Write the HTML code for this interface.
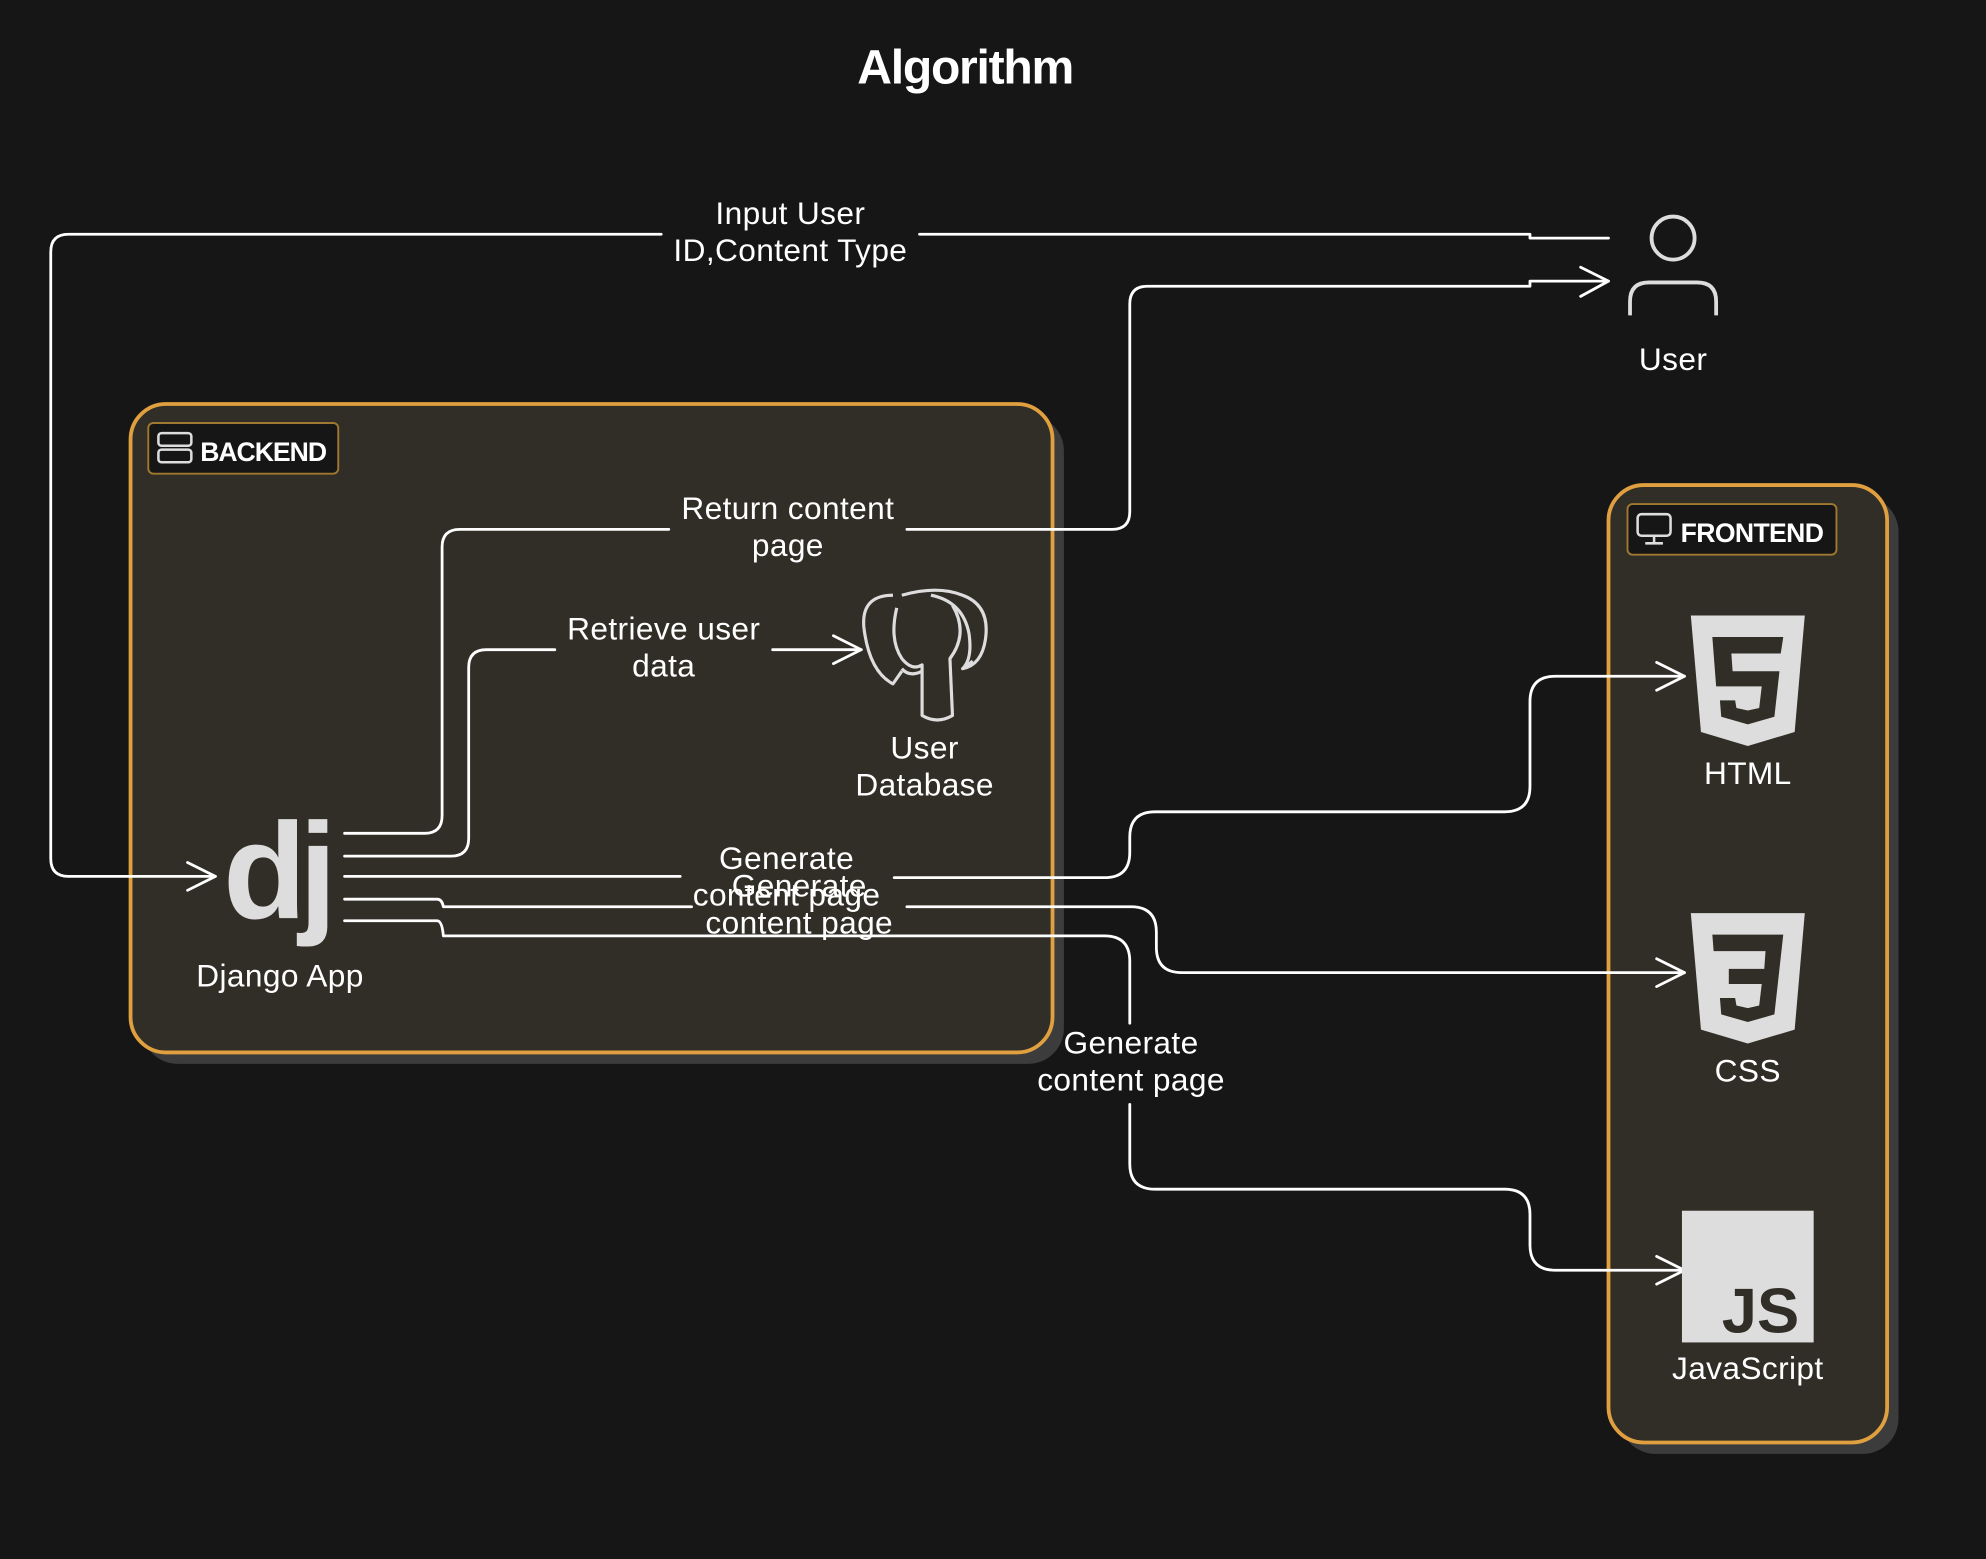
<!DOCTYPE html>
<html><head><meta charset="utf-8"><style>
html,body{margin:0;padding:0;background:#161616;}
svg{display:block;}
text{font-family:"Liberation Sans",sans-serif;fill:#fff;}
</style></head><body>
<svg width="1986" height="1559" viewBox="0 0 1568 1231" xmlns="http://www.w3.org/2000/svg">
<rect width="1568" height="1231" fill="#161616"/>
<text x="762" y="66" font-size="38" font-weight="bold" text-anchor="middle" letter-spacing="-1">Algorithm</text>

<!-- backend panel -->
<rect x="112" y="328" width="728" height="512" rx="28" fill="#3c3c3c"/>
<rect x="103" y="319" width="728" height="512" rx="28" fill="#302e26" stroke="#e0a040" stroke-width="3"/>
<rect x="117" y="334" width="150" height="40" rx="4" fill="#161616" stroke="#a07830" stroke-width="1.5"/>
<rect x="125" y="342" width="26" height="10" rx="2.5" fill="none" stroke="#ddd" stroke-width="2"/>
<rect x="125" y="355" width="26" height="10" rx="2.5" fill="none" stroke="#ddd" stroke-width="2"/>
<text x="158" y="364" font-size="21" font-weight="bold" letter-spacing="-0.8">BACKEND</text>

<!-- frontend panel -->
<rect x="1279" y="392" width="220" height="756" rx="28" fill="#3c3c3c"/>
<rect x="1270" y="383" width="220" height="756" rx="28" fill="#302e26" stroke="#e0a040" stroke-width="3"/>
<rect x="1285" y="398" width="165" height="40" rx="4" fill="#161616" stroke="#a07830" stroke-width="1.5"/>
<rect x="1293" y="406" width="26" height="17" rx="3" fill="none" stroke="#ddd" stroke-width="2"/>
<line x1="1306" y1="423" x2="1306" y2="429" stroke="#ddd" stroke-width="2"/>
<line x1="1299" y1="429" x2="1313" y2="429" stroke="#ddd" stroke-width="2"/>
<text x="1327" y="428" font-size="21" font-weight="bold" letter-spacing="-0.5">FRONTEND</text>

<!-- connectors -->
<g fill="none" stroke="#fff" stroke-width="2.2" stroke-linecap="round" stroke-linejoin="round">
<path d="M1270 188 L1208 188 L1208 185 L726 185"/>
<path d="M522 185 L54 185 Q40 185 40 199 L40 678 Q40 692 54 692 L170 692"/>
<path d="M148 681 L170 692 L148 703"/>
<path d="M272 658 L335 658 Q349 658 349 644 L349 432 Q349 418 363 418 L528 418"/>
<path d="M716 418 L878 418 Q892 418 892 404 L892 240 Q892 226 906 226 L1208 226 L1208 222 L1270 222"/>
<path d="M1248 211 L1270 222 L1248 234"/>
<path d="M272 676 L356 676 Q370 676 370 662 L370 527 Q370 513 384 513 L438 513"/>
<path d="M610 513 L680 513"/>
<path d="M658 502 L680 513 L658 524"/>
<path d="M272 692 L537 692"/>
<path d="M706 693 L872 693 Q892 693 892 673 L892 661 Q892 641 912 641 L1188 641 Q1208 641 1208 621 L1208 554 Q1208 534 1228 534 L1330 534"/>
<path d="M1308 523 L1330 534 L1308 545"/>
<path d="M272 710 L345 710 Q349 710 350 716 L546 716"/>
<path d="M716 716 L893 716 Q913 716 913 736 L913 748 Q913 768 933 768 L1330 768"/>
<path d="M1308 757 L1330 768 L1308 779"/>
<path d="M272 727 L345 727 Q349 727 350 739 L872 739 Q892 739 892 759 L892 808"/>
<path d="M892 872 L892 919 Q892 939 912 939 L1188 939 Q1208 939 1208 959 L1208 983 Q1208 1003 1228 1003 L1330 1003"/>
<path d="M1308 992 L1330 1003 L1308 1014"/>
</g>

<!-- labels -->
<g font-size="25" text-anchor="middle" letter-spacing="0.3">
<text x="624" y="177">Input User</text>
<text x="624" y="206">ID,Content Type</text>
<text x="622" y="410">Return content</text>
<text x="622" y="439">page</text>
<text x="524" y="505">Retrieve user</text>
<text x="524" y="534">data</text>
<text x="621" y="686">Generate</text>
<text x="621" y="715">content page</text>
<text x="631" y="708">Generate</text>
<text x="631" y="737">content page</text>
<text x="893" y="832">Generate</text>
<text x="893" y="861">content page</text>
<text x="730" y="599">User</text>
<text x="730" y="628">Database</text>
<text x="221" y="779">Django App</text>
<text x="1321" y="292">User</text>
<text x="1380" y="619">HTML</text>
<text x="1380" y="854">CSS</text>
<text x="1380" y="1089">JavaScript</text>
</g>

<!-- user icon -->
<g fill="none" stroke="#ddd" stroke-width="3">
<circle cx="1321" cy="188" r="17"/>
<path d="M1287 249 L1287 238 Q1287 223 1302 223 L1340 223 Q1355 223 1355 238 L1355 249"/>
</g>

<!-- elephant -->
<g fill="none" stroke="#ddd" stroke-width="2.5" stroke-linejoin="round">
<path d="M705 470 Q680 470 682 495 Q686 530 705 540 L712 530"/>
<path d="M712 470 Q740 462 760 470 Q782 478 778 505 Q775 525 760 528 L768 522"/>
<path d="M708 480 Q702 505 712 520 Q720 530 728 525 L728 565 Q740 572 752 565 L750 520 Q765 500 752 478"/>
<path d="M712 528 Q718 535 728 530"/>
<path d="M735 470 Q760 475 765 500 Q768 520 760 528"/>
</g>

<!-- django -->
<text x="176" y="725" font-size="108" font-weight="bold" style="fill:#ddd" letter-spacing="-6">dj</text>

<!-- html5 -->
<path d="M1335 486 L1425 486 L1417 578 L1380 589 L1343 578 Z" fill="#ddd"/>
<path d="M1352 503 L1408 503 L1406 516 L1367 516 L1368 530 L1405 530 L1401 566 L1380 572 L1359 566 L1358 553 L1370 553 L1371 559 L1380 561 L1389 559 L1391 542 L1355 542 Z" fill="#302e26"/>
<!-- css3 -->
<path d="M1335 721 L1425 721 L1417 813 L1380 824 L1343 813 Z" fill="#ddd"/>
<path d="M1352 738 L1408 738 L1401 801 L1380 807 L1359 801 L1358 788 L1370 788 L1371 794 L1380 796 L1389 794 L1391 777 L1365 777 L1365 765 L1393 765 L1394 751 L1353 751 Z" fill="#302e26"/>
<!-- js -->
<rect x="1328" y="956" width="104" height="104" fill="#ddd"/>
<text x="1390" y="1052" font-size="50" font-weight="bold" text-anchor="middle" style="fill:#302e26">JS</text>
</svg>
</body></html>
